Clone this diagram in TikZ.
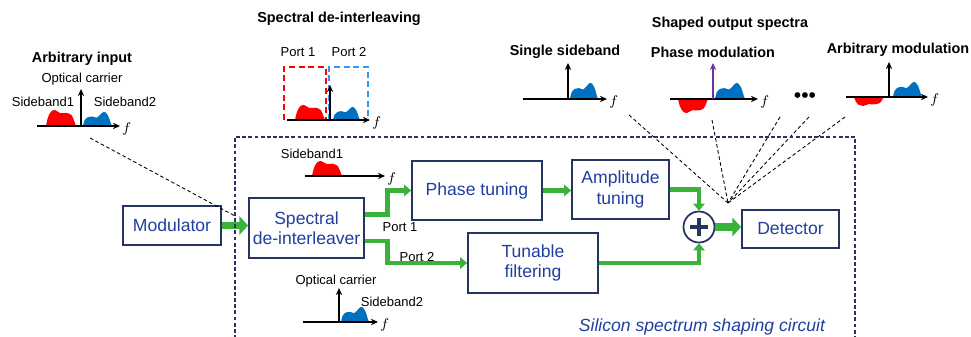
\documentclass[tikz,border=0pt]{standalone}
\usepackage{fontspec}
\setmainfont{Liberation Sans}
\usepackage{tikz}
\usetikzlibrary{positioning,arrows.meta}

\definecolor{navy}{RGB}{38,52,98}
\definecolor{boxtext}{RGB}{31,62,158}
\definecolor{flowgreen}{RGB}{58,178,58}
\definecolor{sigred}{RGB}{255,0,0}
\definecolor{sigblue}{RGB}{0,112,192}
\definecolor{portblue}{RGB}{45,150,255}
\definecolor{carrierpurple}{RGB}{112,48,160}

\begin{document}
\begin{tikzpicture}[x=0.02cm, y=-0.02cm,
    block/.style={draw=navy, line width=1pt, text=boxtext, align=center, font=\fontsize{10}{11.5}\selectfont, inner sep=1pt},
    heading/.style={font=\bfseries\fontsize{8.2}{10}\selectfont, inner sep=1pt},
    smalltext/.style={font=\fontsize{7.4}{9}\selectfont, inner sep=1pt},
    flow/.style={draw=flowgreen, line width=2.8pt, -{Triangle[width=6.5pt,length=4pt]}},
    bigflow/.style={draw=flowgreen, line width=4.5pt, -{Triangle[width=10.5pt,length=5pt]}},
    axisline/.style={line width=0.8pt, -{Stealth[length=4pt,width=3.6pt]}},
    pointer/.style={line width=0.5pt, dash pattern=on 2pt off 1.5pt},
    flabel/.style={font=\fontsize{8}{8}\selectfont, inner sep=1pt, anchor=west, yshift=-1.8pt},
    redbump/.pic={\fill[sigred] plot[smooth, tension=0.6] coordinates {(0,0) (0.06,-0.5) (0.16,-0.88) (0.3,-1) (0.48,-0.8) (0.68,-0.82) (0.86,-0.66) (0.95,-0.25) (1,0)} -- cycle;},
    bluebump/.pic={\fill[sigblue] plot[smooth, tension=0.6] coordinates {(0,0) (0.06,-0.42) (0.18,-0.64) (0.32,-0.68) (0.48,-0.6) (0.64,-0.9) (0.75,-1) (0.87,-0.72) (0.95,-0.25) (1,0)} -- cycle;}]
    \useasboundingbox (0,0) rectangle (971,337);

    % Spektren oben
    \node[heading] (arbIn) at (82,59) {Arbitrary input};
    \node[smalltext] (carrierIn) at (82,79) {Optical carrier};
    \node[smalltext] (sbOneIn) at (43,102) {Sideband1};
    \node[smalltext] (sbTwoIn) at (125,102) {Sideband2};
    \node[heading] (deintTitle) at (339,19) {Spectral de-interleaving};
    \node[smalltext] (portOneTop) at (298,52) {Port 1};
    \node[smalltext] (portTwoTop) at (349,52) {Port 2};
    \node[heading] (outTitle) at (730,24) {Shaped output spectra};
    \node[heading] (ssb) at (565,52) {Single sideband};
    \node[heading] (phaseMod) at (713,52) {Phase modulation};
    \node[heading] (arbMod) at (898,50) {Arbitrary modulation};
    \node[font=\fontsize{12}{12}\selectfont, inner sep=0pt] (dots) at (805,98) {\textbullet\textbullet\textbullet};

    % Spektren im Schaltkreis
    \node[smalltext] (sbOneMid) at (312,154) {Sideband1};
    \node[smalltext] (carrierMid) at (336,281) {Optical carrier};
    \node[smalltext] (sbTwoMid) at (392,302) {Sideband2};

    \draw[sigred, line width=1.3pt, dash pattern=on 3.5pt off 2pt] (284,120) -- (284,67) -- (326,67) -- (326,120);
    \draw[portblue, line width=1.3pt, dash pattern=on 3.5pt off 2pt] (329,120) -- (329,67) -- (368,67) -- (368,120);

    \pic[xscale=30, yscale=16] at (46,126) {redbump};
    \pic[xscale=29, yscale=14] at (83,126) {bluebump};
    \pic[xscale=30, yscale=15] at (295,120) {redbump};
    \pic[xscale=27, yscale=13] at (333,120) {bluebump};
    \pic[xscale=28, yscale=16] at (570,99) {bluebump};
    \pic[xscale=30, yscale=16] at (715,99) {bluebump};
    \pic[xscale=30, yscale=-14] at (678,99) {redbump};
    \pic[xscale=29, yscale=15] at (893,97) {bluebump};
    \pic[xscale=30, yscale=-9] at (854,97) {redbump};
    \pic[xscale=30, yscale=15] at (312,176) {redbump};
    \pic[xscale=28, yscale=15] at (341,322) {bluebump};

    \foreach \xa/\xb/\ya in {37/120/126, 287/370/120, 523/607/99, 670/758/99, 846/928/97, 305/385/176, 303/378/322} {
        \draw[axisline] (\xa,\ya) -- (\xb,\ya) node[flabel] {$f$};
    }
    \foreach \xc/\ya/\yb in {81/126/89, 330/120/85, 568/99/63, 889/97/62, 339/322/288} {
        \draw[axisline] (\xc,\ya) -- (\xc,\yb);
    }
    \draw[axisline, carrierpurple] (713,99) -- (713,63);

    % Bloecke
    \node[block, minimum width=1.96cm, minimum height=0.78cm] (modulator) at (172,225.5) {Modulator};
    \node[block, minimum width=2.3cm, minimum height=1.2cm] (deinterleaver) at (306.5,228) {Spectral\\de-interleaver};
    \node[block, minimum width=2.6cm, minimum height=1.18cm] (phase) at (477,190.5) {Phase tuning};
    \node[block, minimum width=1.94cm, minimum height=1.18cm] (amplitude) at (620.5,189.5) {Amplitude\\tuning};
    \node[block, minimum width=2.6cm, minimum height=1.2cm] (tunable) at (533,263) {Tunable\\filtering};
    \node[block, minimum width=1.94cm, minimum height=0.76cm] (detector) at (790.5,229) {Detector};
    \node[circle, draw=navy, line width=1pt, fill=white, minimum size=0.62cm, inner sep=0pt] (sum) at (699,227) {};
    \draw[navy, line width=2.3pt] ([xshift=-5pt]sum.center) -- ([xshift=5pt]sum.center);
    \draw[navy, line width=2.3pt] ([yshift=-5pt]sum.center) -- ([yshift=5pt]sum.center);

    \node[smalltext] (portOne) at (400,227) {Port 1};
    \node[smalltext] (portTwo) at (417,257) {Port 2};

    % Verbindungen
    \draw[bigflow] (modulator.east) -- (modulator.east -| deinterleaver.west);
    \draw[flow] ([yshift=7.9pt]deinterleaver.east) -- ++(23,0) |- (phase.west);
    \draw[flow] ([yshift=-7.4pt]deinterleaver.east) -- ++(23,0) |- (tunable.west);
    \draw[flow] (phase.east) -- (phase.east -| amplitude.west);
    \draw[flow] (amplitude.east) -| (sum.north);
    \draw[flow] (tunable.east) -| (sum.south);
    \draw[bigflow] (sum.east) -- (sum.east -| detector.west);

    % gestrichelte Hinweise
    \coordinate (inTip) at (90,138);
    \coordinate (inFoot) at (235,216);
    \draw[pointer] (inTip) -- (inFoot);
    \coordinate (fanFoot) at (728,203);
    \foreach \sx/\sy in {629/115, 712/120, 780/117, 809/117, 845/117} {
        \draw[pointer] (\sx,\sy) -- (fanFoot);
    }

    % Rahmen Schaltkreis
    \draw[navy, line width=0.8pt, dash pattern=on 2.2pt off 1.3pt] (235,345) -- (235,137) -- (855,137) -- (855,345);
    \node[font=\itshape\fontsize{10}{12}\selectfont, text=boxtext] (circuitName) at (702,327) {Silicon spectrum shaping circuit};
\end{tikzpicture}
\end{document}
